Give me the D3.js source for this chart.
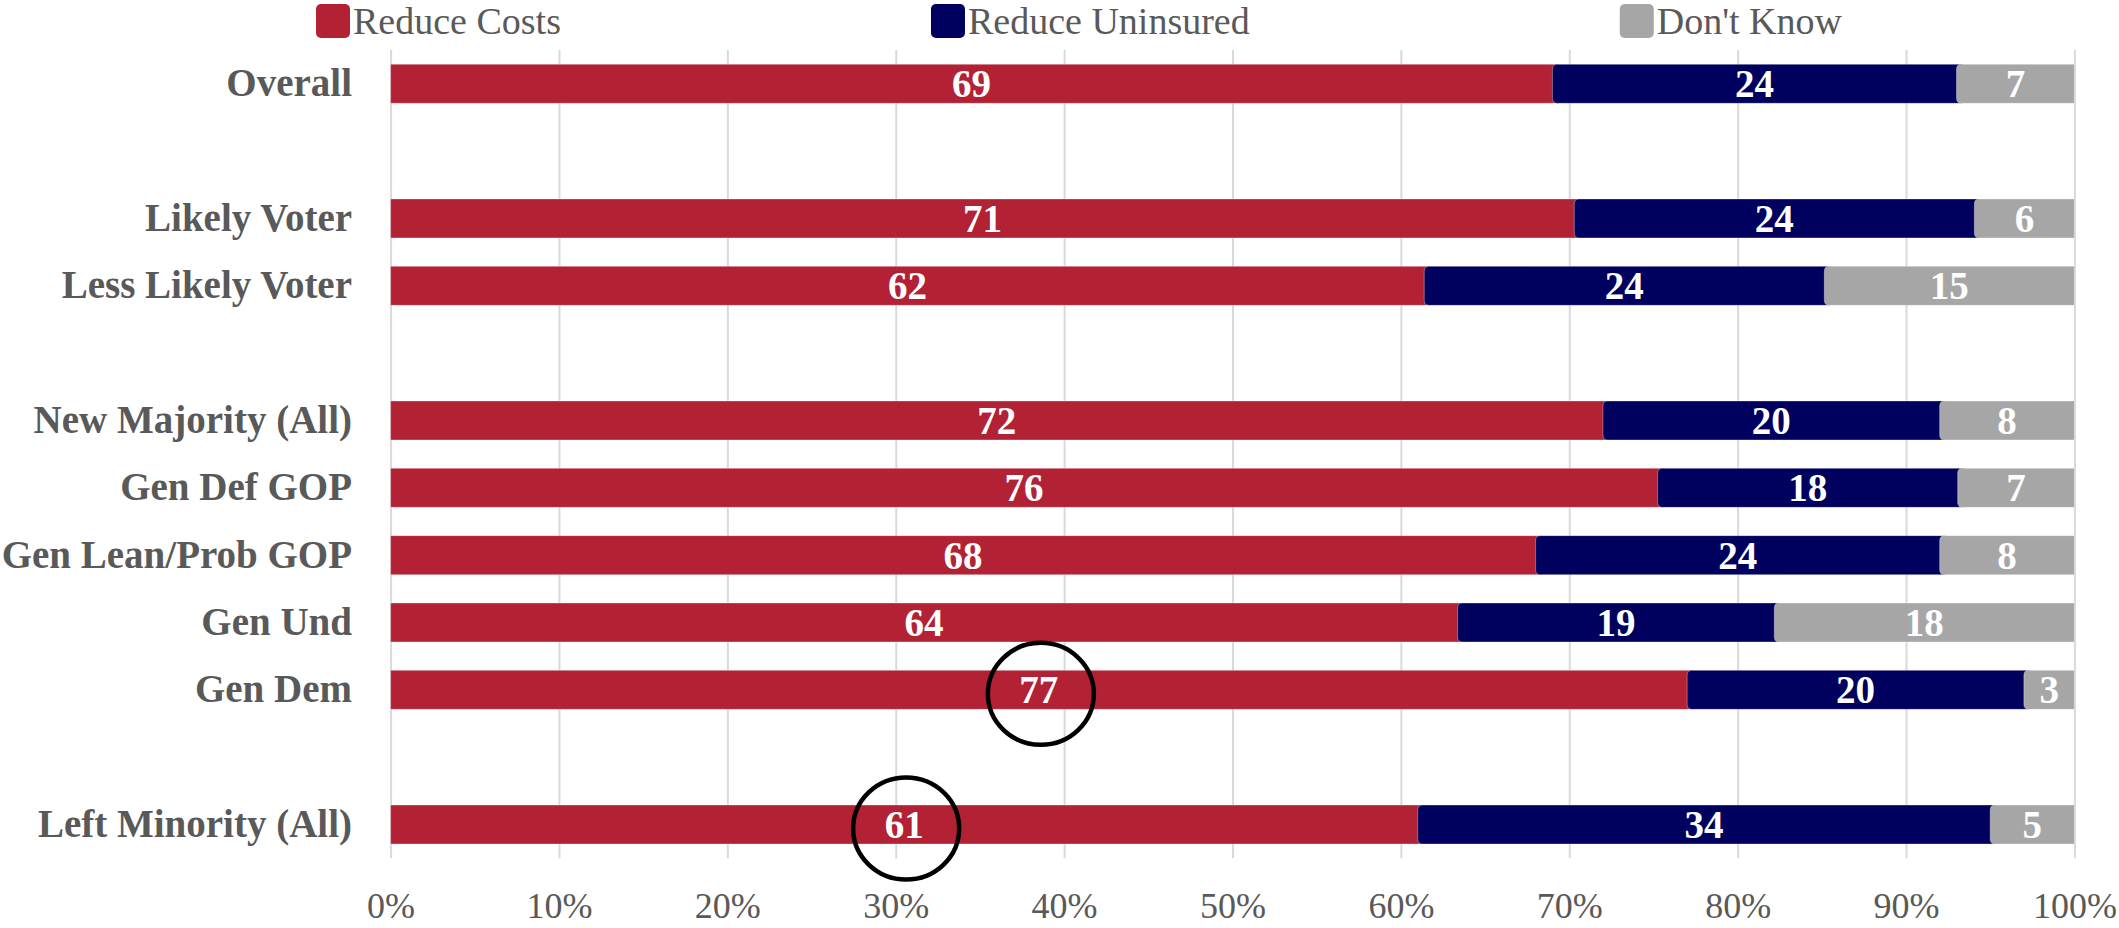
<!DOCTYPE html>
<html>
<head>
<meta charset="utf-8">
<script src="https://cdn.jsdelivr.net/npm/d3@7"></script>
<style>
  body { margin: 0; background: #fff; }
  svg { display: block; font-family: "Liberation Serif", "DejaVu Serif", serif; }
</style>
</head>
<body>
<svg id="chart"></svg>
<script>
/* data */
// null rows are the blank spacer rows between the groups
const categories = ["Overall", null, "Likely Voter", "Less Likely Voter", null,
  "New Majority (All)", "Gen Def GOP", "Gen Lean/Prob GOP", "Gen Und", "Gen Dem", null,
  "Left Minority (All)"];
const reduceCosts     = [69, null, 71, 62, null, 72, 76, 68, 64, 77, null, 61];
const reduceUninsured = [24, null, 24, 24, null, 20, 18, 24, 19, 20, null, 34];
const dontKnow        = [7,  null, 6,  15, null, 8,  7,  8,  18, 3,  null, 5];
const seriesNames = ["Reduce Costs", "Reduce Uninsured", "Don't Know"];
const colors = ["#B22234", "#00005E", "#A6A6A6"];
const xTicks = [0, 0.1, 0.2, 0.3, 0.4, 0.5, 0.6, 0.7, 0.8, 0.9, 1];
// labels circled in the original (Reduce Costs series)
const circled = ["Gen Dem", "Left Minority (All)"];

(function() {
  let width = 2119, height = 928;
  let left = 390.6, right = 2074.4, top = 50.1, bottom = 858.2;

  let svg = d3.select("#chart")
    .attr("width", width)
    .attr("height", height);

  let x = d3.scaleLinear()
    .domain([0, 1])
    .range([left, right]);

  let y = d3.scaleBand()
    .domain(categories.map((d, i) => i))
    .range([top, bottom])
    .paddingInner(0.42)
    .paddingOuter(0.21);

  let rows = categories.map((c, i) => ({
    i, c,
    "Reduce Costs": reduceCosts[i],
    "Reduce Uninsured": reduceUninsured[i],
    "Don't Know": dontKnow[i]
  })).filter(d => d.c !== null);

  let stack = d3.stack()
    .keys(seriesNames)
    .offset(d3.stackOffsetExpand);
  let layers = stack(rows);

  // x axis + gridlines
  let xAxis = svg.append("g")
    .attr("transform", "translate(0," + bottom + ")")
    .call(d3.axisBottom(x)
      .tickValues(xTicks)
      .tickFormat(d3.format(".0%"))
      .tickSize(-(bottom - top))
      .tickPadding(34.5));
  xAxis.select(".domain").remove();
  xAxis.selectAll("line")
    .attr("stroke", "#D9D9D9")
    .attr("stroke-width", 2);
  xAxis.selectAll("text")
    .attr("fill", "#595959")
    .style("font-size", "36px")
    .style("font-family", "Liberation Serif");

  // y axis labels
  let yAxis = svg.append("g")
    .attr("transform", "translate(" + left + ",0)")
    .call(d3.axisLeft(y)
      .tickSize(0)
      .tickPadding(38.6)
      .tickFormat(i => categories[i] || ""));
  yAxis.select(".domain").remove();
  yAxis.selectAll("text")
    .attr("fill", "#595959")
    .style("font-size", "39px")
    .style("font-weight", "bold")
    .style("font-family", "Liberation Serif");

  // segment shape: left corners rounded except the first one
  function seg(x0, x1, y0, h, round) {
    let r = round ? 5 : 0;
    return "M" + (x0 + r) + "," + y0 +
      "H" + x1 + "V" + (y0 + h) + "H" + (x0 + r) +
      (r ? "Q" + x0 + "," + (y0 + h) + " " + x0 + "," + (y0 + h - r) : "") +
      "V" + (y0 + r) +
      (r ? "Q" + x0 + "," + y0 + " " + (x0 + r) + "," + y0 : "") + "Z";
  }

  let bars = svg.append("g");
  layers.forEach((layer, k) => {
    let last = k === layers.length - 1;
    bars.append("g")
      .selectAll("path")
      .data(layer)
      .enter().append("path")
      .attr("d", d => seg(x(d[0]), x(d[1]) + (last ? 0 : 6),
        y(d.data.i), y.bandwidth(), k > 0))
      .attr("fill", colors[k])
      .attr("stroke", "rgba(255,255,255,0.35)")
      .attr("stroke-width", 1);
  });

  // value labels
  let labels = svg.append("g");
  layers.forEach((layer, k) => {
    labels.append("g")
      .selectAll("text")
      .data(layer)
      .enter().append("text")
      .attr("x", d => x((d[0] + d[1]) / 2))
      .attr("y", d => y(d.data.i) + y.bandwidth() / 2)
      .attr("dy", "0.35em")
      .attr("text-anchor", "middle")
      .attr("fill", "#fff")
      .style("font-size", "39px")
      .style("font-weight", "bold")
      .text(d => d.data[layer.key]);
  });

  // annotation circles
  svg.append("g")
    .selectAll("ellipse")
    .data(layers[0].filter(d => circled.includes(d.data.c)))
    .enter().append("ellipse")
    .attr("cx", d => x((d[0] + d[1]) / 2) + 2)
    .attr("cy", d => y(d.data.i) + y.bandwidth() / 2 + 4)
    .attr("rx", 53)
    .attr("ry", 51)
    .attr("fill", "none")
    .attr("stroke", "#000")
    .attr("stroke-width", 4.5);

  // legend
  let legend = svg.append("g");
  let items = seriesNames.map((name, k) => {
    let g = legend.append("g");
    g.append("rect")
      .attr("width", 34)
      .attr("height", 34)
      .attr("rx", 5)
      .attr("y", 4)
      .attr("fill", colors[k]);
    let t = g.append("text")
      .attr("x", 37)
      .attr("y", 34)
      .attr("fill", "#595959")
      .style("font-size", "38px")
      .text(name);
    return { g, w: 37 + t.node().getComputedTextLength() };
  });
  let legendStart = 316, legendEnd = 1842;
  let gap = (legendEnd - legendStart - d3.sum(items, d => d.w)) / (items.length - 1);
  let cx = legendStart;
  items.forEach(d => {
    d.g.attr("transform", "translate(" + cx + ",0)");
    cx += d.w + gap;
  });
})();
</script>
</body>
</html>
